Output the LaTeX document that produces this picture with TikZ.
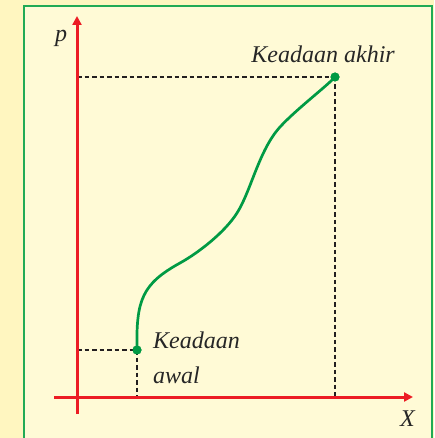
\documentclass[tikz,border=0pt]{standalone}
\usepackage{fontspec}
\setmainfont{Liberation Serif}
\usetikzlibrary{arrows.meta}
\definecolor{outerbg}{HTML}{FFF6C0}
\definecolor{innerbg}{HTML}{FFFAD6}
\definecolor{framegreen}{HTML}{22AA55}
\definecolor{axisred}{HTML}{EC1C24}
\definecolor{curvegreen}{HTML}{009A44}
\definecolor{dashblack}{HTML}{231F20}
\tikzset{
  axisline/.style={draw=axisred, line width=3pt, -{Triangle[length=9pt,width=9pt]}},
  guide/.style={draw=dashblack, line width=1.7pt, dash pattern=on 4.5pt off 3pt},
  curveline/.style={draw=curvegreen, line width=2.7pt},
  statedot/.style={circle, fill=curvegreen, inner sep=0pt, minimum size=9pt},
  lbl/.style={inner sep=0pt, font=\fontsize{24}{28}\selectfont\itshape, text=black!85}
}
\begin{document}
\begin{tikzpicture}[x=1pt,y=-1pt]
\useasboundingbox (0,0) rectangle (434,438);
\fill[outerbg] (0,0) rectangle (434,438);
\begin{scope}
\clip (0,0) rectangle (434,438);
\filldraw[fill=innerbg, draw=framegreen, line width=1.5pt] (24,6) rectangle (432,450);
\end{scope}
% axes
\coordinate (ybot) at (77,414);
\coordinate (ytop) at (77,16);
\coordinate (xleft) at (54,397);
\coordinate (xright) at (413,397);
% states
\node[statedot] (A) at (137,350) {};
\node[statedot] (B) at (335,77) {};
\coordinate (Ay) at (77,350);
\coordinate (Ax) at (137,397);
\coordinate (By) at (77,77);
\coordinate (Bx) at (335,397);
% guides
\draw[guide] (Ay) -- (A.center);
\draw[guide] (A.center) -- (Ax);
\draw[guide] (By) -- (B.center);
\draw[guide] (B.center) -- (Bx);
% axes drawn over guides
\draw[axisline] (ybot) -- (ytop);
\draw[axisline] (xleft) -- (xright);
% curve
\draw[curveline] (A.center) .. controls (136,300) and (142,284) .. (180,263)
  .. controls (199,252.5) and (225,232) .. (237,213)
  .. controls (251,191) and (259,150) .. (280,127)
  .. controls (296,109.5) and (327,86) .. (B.center);
\node[statedot] at (A) {};
\node[statedot] at (B) {};
% labels
\node[lbl, anchor=base west] (plbl) at (55,42) {p};
\node[lbl, anchor=base west] (xlbl) at (400,426) {X};
\node[lbl, anchor=base east] (blbl) at (395,63) {Keadaan akhir};
\node[lbl, anchor=base west] (albl1) at (153,348) {Keadaan};
\node[lbl, anchor=base west] (albl2) at (153,383) {awal};
\end{tikzpicture}
\end{document}
